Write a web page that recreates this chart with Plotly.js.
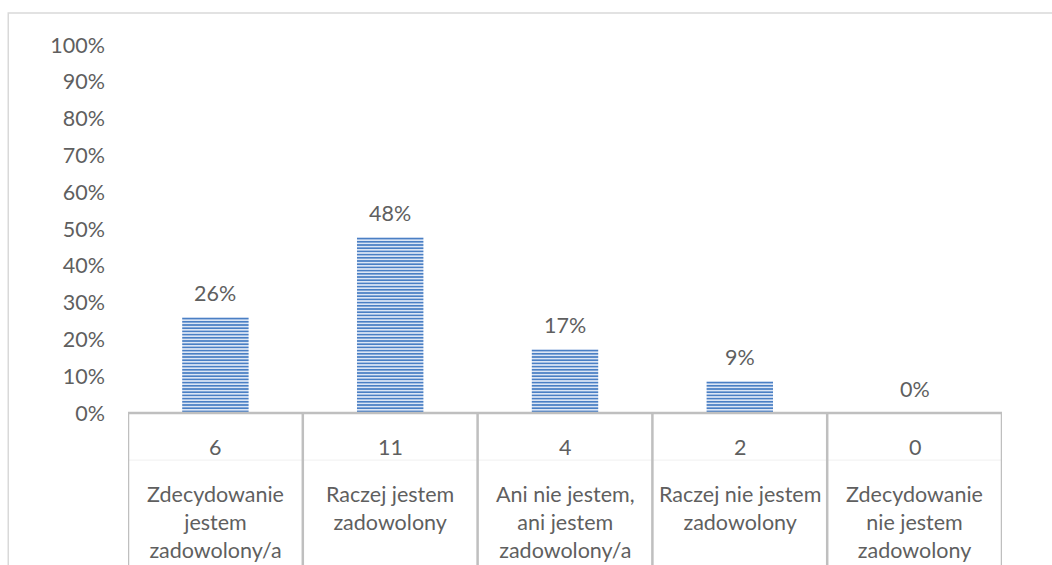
<!DOCTYPE html>
<html>
<head>
<meta charset="utf-8">
<script src="https://cdn.plot.ly/plotly-3.0.1.min.js"></script>
<style>html,body{margin:0;padding:0;background:#fff;}#chart{width:1052px;height:565px;}</style>
</head>
<body>
<div id="chart"></div>
<script>
// Data
const categories = ["Zdecydowanie<br>jestem<br>zadowolony/a", "Raczej jestem<br>zadowolony", "Ani nie jestem,<br>ani jestem<br>zadowolony/a", "Raczej nie jestem<br>zadowolony", "Zdecydowanie<br>nie jestem<br>zadowolony"];
const counts = [6, 11, 4, 2, 0];
const shares = [0.261, 0.478, 0.174, 0.087, 0];
const shareLabels = ["26%", "48%", "17%", "9%", "0%"];
const yTickVals = [0, 0.1, 0.2, 0.3, 0.4, 0.5, 0.6, 0.7, 0.8, 0.9, 1.0];
const yTickText = ["0%", "10%", "20%", "30%", "40%", "50%", "60%", "70%", "80%", "90%", "100%"];

const FONT = "Lato, 'Open Sans', sans-serif";
const FS = 21.5;
const TXT = "#5f5f5f";
const idx = categories.map((_, i) => i);

const trace = {
  type: "bar",
  x: idx,
  y: shares,
  width: 0.38,
  marker: {
    color: "#dbe5f4",
    line: {width: 0},
    pattern: {shape: "-", fgcolor: "#4a7fc4", bgcolor: "#dce6f5", size: 3.2, solidity: 0.5}
  },
  hoverinfo: "skip"
};

const shapes = [];
const lineCol = "#bfbfbf";
// outer chart border
shapes.push({type: "rect", xref: "paper", yref: "paper", x0: -0.137, x1: 1.1, y0: -0.6, y1: 1.087,
  line: {color: "#d9d9d9", width: 1.5}, layer: "below"});
// table top line
shapes.push({type: "line", xref: "x", yref: "paper", x0: -0.5, x1: 4.5, y0: 0, y1: 0,
  line: {color: lineCol, width: 2.5}});
// faint row separator
shapes.push({type: "line", xref: "x", yref: "paper", x0: -0.5, x1: 4.5, y0: -0.128, y1: -0.128,
  line: {color: "#f0f0f0", width: 1}});
// vertical lines
for (let i = 0; i <= categories.length; i++) {
  shapes.push({type: "line", xref: "x", yref: "paper", x0: i - 0.5, x1: i - 0.5, y0: 0, y1: -0.5,
    line: {color: lineCol, width: 2.5}});
}

const annotations = [];
idx.forEach(i => {
  annotations.push({xref: "x", yref: "y", x: i, y: shares[i], text: shareLabels[i],
    showarrow: false, yanchor: "bottom", xanchor: "center", yshift: 9,
    font: {family: FONT, size: FS, color: TXT}});
  annotations.push({xref: "x", yref: "paper", x: i, y: -0.092, text: String(counts[i]),
    showarrow: false, yanchor: "middle", xanchor: "center",
    font: {family: FONT, size: FS, color: TXT}});
  annotations.push({xref: "x", yref: "paper", x: i, y: -0.18, text: categories[i],
    showarrow: false, yanchor: "top", xanchor: "center", align: "center",
    font: {family: FONT, size: FS, color: TXT}});
});

const layout = {
  width: 1052, height: 565,
  margin: {l: 128, r: 50, t: 45, b: 152},
  paper_bgcolor: "#ffffff", plot_bgcolor: "#ffffff",
  showlegend: false,
  xaxis: {range: [-0.5, 4.5], showticklabels: false, showgrid: false, zeroline: false, showline: false, ticks: "", fixedrange: true},
  yaxis: {range: [0, 1], tickvals: yTickVals, ticktext: yTickText, showgrid: false, zeroline: false, showline: false,
    ticks: "", ticklabelstandoff: 22, tickfont: {family: FONT, size: FS, color: TXT}, fixedrange: true},
  shapes: shapes,
  annotations: annotations,
  bargap: 0.62
};

Plotly.newPlot("chart", [trace], layout, {staticPlot: true, displayModeBar: false});
</script>
</body>
</html>
